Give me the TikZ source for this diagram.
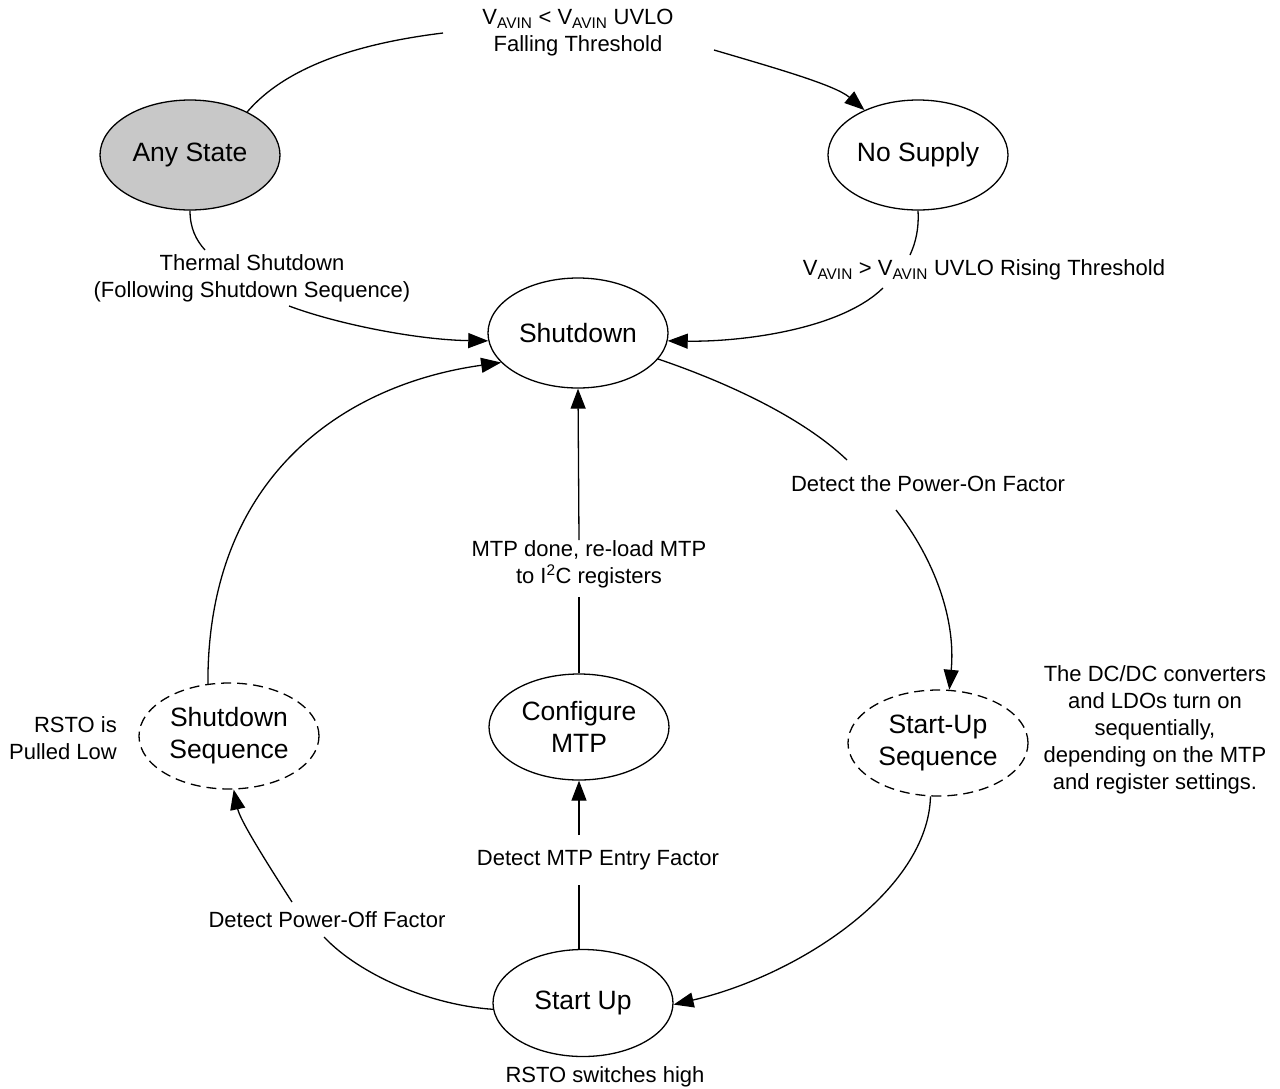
\documentclass[tikz,border=0pt]{standalone}
\usepackage{fontspec}
\setmainfont{Liberation Sans}
\usetikzlibrary{shapes.geometric,arrows.meta}
\definecolor{anyfill}{RGB}{200,200,200}
\begin{document}
\begin{tikzpicture}[x=1pt,y=-1pt,
  st/.style={ellipse, draw, line width=1.3pt, minimum width=180pt, minimum height=110pt, inner sep=0pt, align=center, font=\fontsize{26.5}{32}\selectfont},
  stsm/.style={st, minimum height=106pt},
  stdash/.style={stsm, dash pattern=on 10pt off 6pt},
  lbl/.style={align=center, inner sep=0pt, font=\fontsize{22}{27}\selectfont},
  conn/.style={line width=1.3pt},
  arr/.style={conn, -{Triangle[length=20pt,width=15pt]}}]
\useasboundingbox (0,0) rectangle (1280,1088);
% states
\node[st, fill=anyfill] (any) at (190,155) {Any State};
\node[st] (nosup) at (918,155) {No Supply};
\node[st] (shut) at (578,333) {Shutdown};
\node[stdash] (sseq) at (229,736) {Shutdown\\Sequence};
\node[stsm] (cfg) at (579,727) {Configure\\MTP};
\node[stdash] (useq) at (938,743) {Start-Up\\Sequence};
\node[st, minimum height=107pt] (start) at (583,1003) {Start Up};
% labels
\node[lbl] (ltop) at (578,33) {V\textsubscript{AVIN} < V\textsubscript{AVIN} UVLO\\Falling Threshold};
\node[lbl] (lth) at (252,278) {Thermal Shutdown\\(Following Shutdown Sequence)};
\node[lbl] (lrise) at (984,270) {V\textsubscript{AVIN} > V\textsubscript{AVIN} UVLO Rising Threshold};
\node[lbl] (lon) at (928,484) {Detect the Power-On Factor};
\node[lbl] (lmtp) at (589,564) {MTP done, re-load MTP\\to I\textsuperscript{2}C registers};
\node[lbl, align=right, anchor=east] (lrsto) at (117,738) {RSTO is\\Pulled Low};
\node[lbl] (ldc) at (1155,730) {The DC/DC converters\\and LDOs turn on\\sequentially,\\depending on the MTP\\and register settings.};
\node[lbl] (lentry) at (598,860) {Detect MTP Entry Factor};
\node[lbl] (loff) at (327,920) {Detect Power-Off Factor};
\node[lbl] (lhigh) at (605,1077) {RSTO switches high};
% gap points
\coordinate (a1) at (443,33);  \coordinate (a2) at (714,50);
\coordinate (b1) at (205,250); \coordinate (b2) at (289,306);
\coordinate (c1) at (910,255); \coordinate (c2) at (883,288);
\coordinate (d1) at (847,460); \coordinate (d2) at (896,510);
\coordinate (f1) at (579,885); \coordinate (f2) at (579,835);
\coordinate (g1) at (579,597); \coordinate (g2) at (579,540);
\coordinate (h1) at (324,937); \coordinate (h2) at (292,902);
% connectors
\draw[conn] (any.37) .. controls (290,62) and (370,42) .. (a1);
\draw[arr] (a2) .. controls (775,68) and (835,85) .. (nosup.140);
\draw[conn] (any.south) .. controls (190,228) and (196,240) .. (b1);
\draw[arr] (b2) .. controls (340,325) and (420,340) .. (shut.185);
\draw[conn] (nosup.south) .. controls (919,228) and (916,242) .. (c1);
\draw[arr] (c2) .. controls (840,330) and (740,342) .. (shut.-5);
\draw[conn] (shut.-18) .. controls (720,380) and (800,415) .. (d1);
\draw[arr] (d2) .. controls (935,560) and (956,620) .. (useq.78);
\draw[arr] (useq.-98) .. controls (928,890) and (800,975) .. (start.-1);
\draw[conn] (cfg.south |- start.north) -- (f1);
\draw[arr] (f2) -- (cfg.south);
\draw[conn] (cfg.north) -- (g1);
\draw[arr] (g2) -- (shut.south);
\draw[conn] (start.184) .. controls (430,1005) and (360,975) .. (h1);
\draw[arr] (h2) .. controls (265,860) and (240,820) .. (sseq.-85);
\draw[arr] (sseq.112) .. controls (207,480) and (340,385) .. (shut.201);
\end{tikzpicture}
\end{document}
